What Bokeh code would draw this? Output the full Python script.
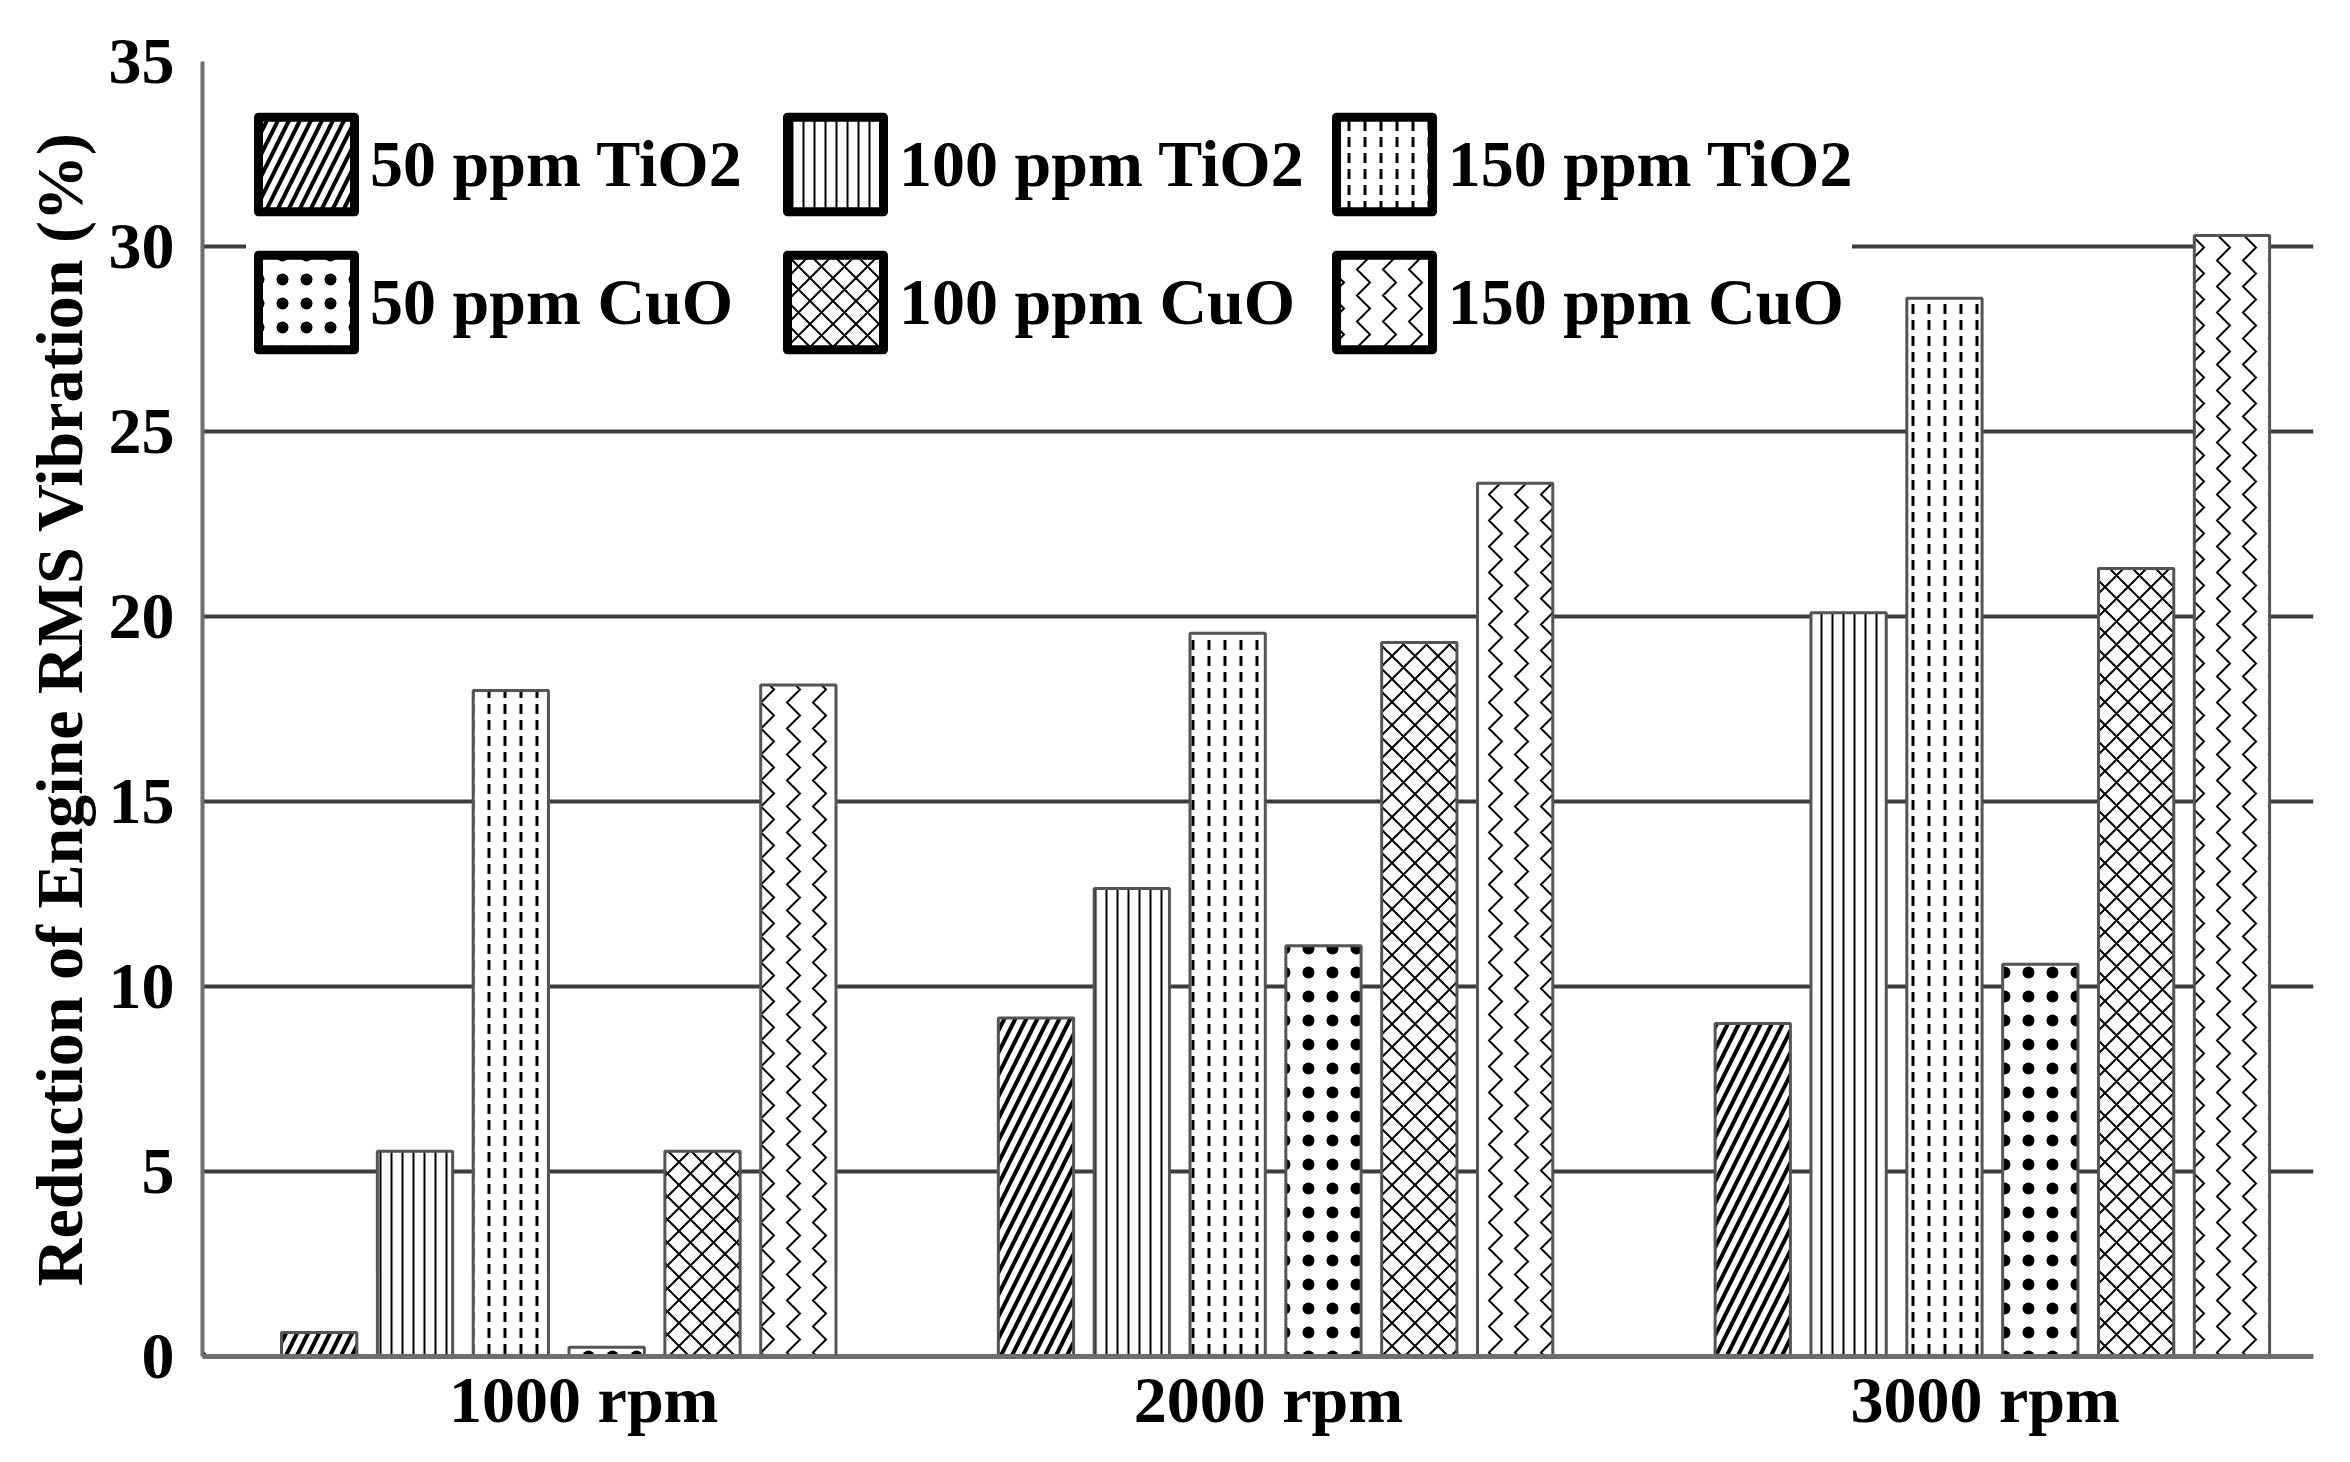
from bokeh.plotting import figure
from bokeh.models import ColumnDataSource, Range1d, FixedTicker, Legend, LegendItem
from bokeh.transform import dodge
from bokeh.embed import file_html
from bokeh.resources import INLINE

rpm = ["1000 rpm", "2000 rpm", "3000 rpm"]
rpm_label_pos = [1.035, 1.99, 2.99]
tio2_50 = [0.65, 9.15, 9.0]
tio2_100 = [5.55, 12.65, 20.1]
tio2_150 = [18.0, 19.55, 28.6]
cuo_50 = [0.25, 11.1, 10.6]
cuo_100 = [5.55, 19.3, 21.3]
cuo_150 = [18.15, 23.6, 30.3]

labels = ["50 ppm TiO2", "100 ppm TiO2", "150 ppm TiO2",
          "50 ppm CuO", "100 ppm CuO", "150 ppm CuO"]
cols = ["tio2_50", "tio2_100", "tio2_150", "cuo_50", "cuo_100", "cuo_150"]
hatches = [("/", 22, 4), ("|", 11, 2), (":", 16, 3),
           (".", 24, 10), ("x", 23, 2), (">", 26, 2)]

src = ColumnDataSource(data=dict(
    x=[1, 2, 3], tio2_50=tio2_50, tio2_100=tio2_100, tio2_150=tio2_150,
    cuo_50=cuo_50, cuo_100=cuo_100, cuo_150=cuo_150))

FONT = "Liberation Serif"

p = figure(width=2334, height=1446, output_backend="svg", toolbar_location=None,
           x_range=Range1d(0.503, 3.448), y_range=Range1d(0, 35),
           min_border_left=202, min_border_right=21, min_border_top=61,
           min_border_bottom=90)
p.outline_line_color = None

step = 0.1337
items = []
for i, (col, lab, (pat, sc, wt)) in enumerate(zip(cols, labels, hatches)):
    off = (i - 2.5) * step
    p.vbar(x=dodge("x", off), top=col, width=0.105, source=src,
           fill_color="white", line_color="#555555", line_width=3,
           hatch_pattern=pat, hatch_scale=sc, hatch_weight=wt, hatch_color="black")
    # legend swatch with a thick border, kept outside the visible ranges
    r = p.vbar(x=[-5], top=[-5], bottom=[-6], width=0.1, fill_color="white",
               line_color="black", line_width=9, line_join="round",
               hatch_pattern=pat, hatch_scale=sc, hatch_weight=wt, hatch_color="black")
    items.append(LegendItem(label=lab, renderers=[r]))

legend = Legend(items=items, location="top_left", orientation="horizontal", ncols=3,
                glyph_width=120, glyph_height=118, label_width=385,
                label_standoff=4, spacing=20, margin=44, padding=20,
                border_line_color=None,
                background_fill_color="white", background_fill_alpha=1.0,
                label_text_font=FONT, label_text_font_style="bold",
                label_text_font_size="66px", label_text_color="black")
p.add_layout(legend, "center")

p.xaxis.ticker = FixedTicker(ticks=rpm_label_pos)
p.xaxis.major_label_overrides = dict(zip(rpm_label_pos, rpm))
p.yaxis.ticker = FixedTicker(ticks=[0, 5, 10, 15, 20, 25, 30, 35])
p.ygrid.ticker = FixedTicker(ticks=[0, 5, 10, 15, 20, 25, 30, 35])
p.xgrid.grid_line_color = None
p.ygrid.grid_line_color = "#3c3c3c"
p.ygrid.grid_line_width = 4

for ax in (p.xaxis, p.yaxis):
    ax.major_tick_line_color = None
    ax.minor_tick_line_color = None
    ax.major_label_text_font = FONT
    ax.major_label_text_font_style = "bold"
    ax.major_label_text_font_size = "66px"
    ax.major_label_text_color = "black"
    ax.axis_line_color = "#6e6e6e"

p.yaxis.axis_line_width = 4
p.xaxis.axis_line_width = 5
p.yaxis.major_label_standoff = 22
p.xaxis.major_label_standoff = 0

p.yaxis.axis_label = "Reduction of Engine RMS Vibration (%)"
p.yaxis.axis_label_text_font = FONT
p.yaxis.axis_label_text_font_style = "bold"
p.yaxis.axis_label_text_font_size = "66px"
p.yaxis.axis_label_text_color = "black"
p.yaxis.axis_label_standoff = 10

open("out.html", "w").write(file_html(p, INLINE))
